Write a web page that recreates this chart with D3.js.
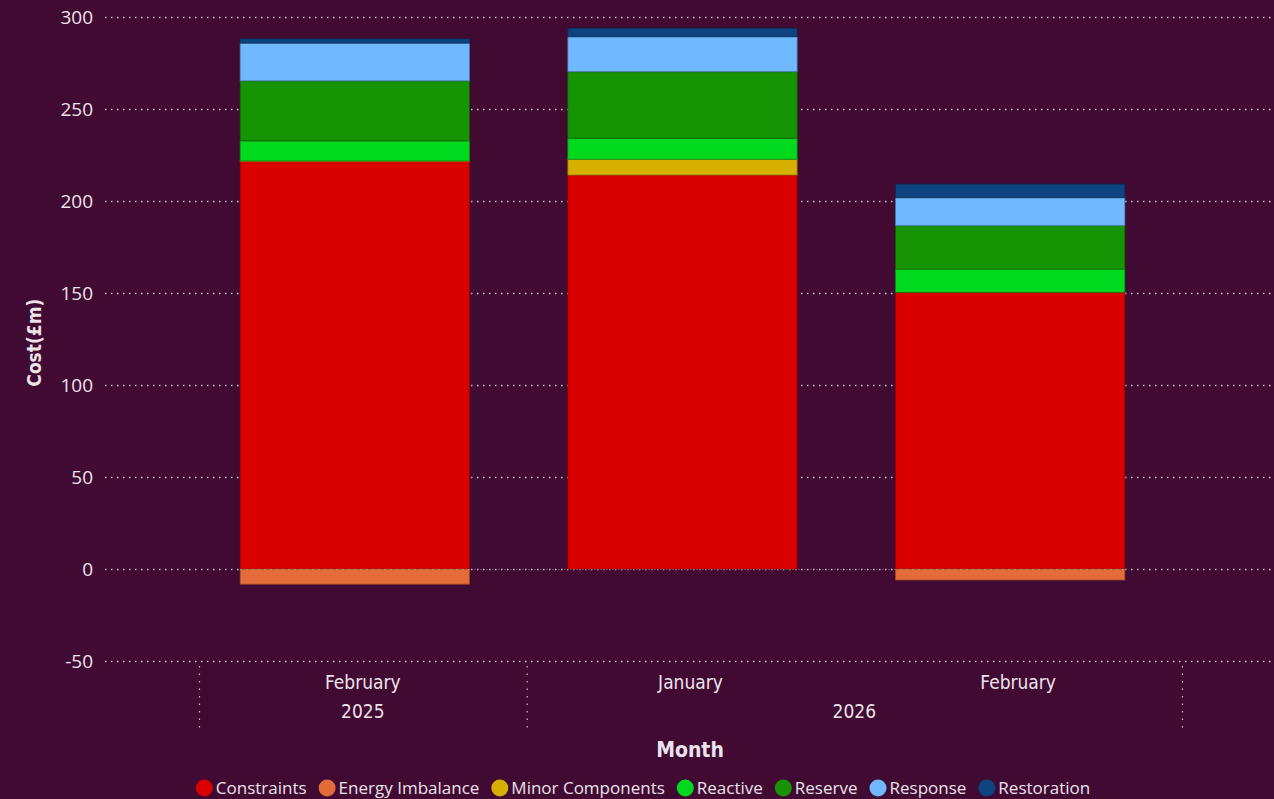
<!DOCTYPE html>
<html>
<head>
<meta charset="utf-8">
<script src="https://cdn.jsdelivr.net/npm/d3@7"></script>
<style>
  html, body { margin: 0; padding: 0; background: #400a32; }
  svg { display: block; }
</style>
</head>
<body>
<svg id="chart" width="1274" height="799"></svg>
<script>
// Monthly balancing cost breakdown (£m)
const months = ["February", "January", "February"];
const years = ["2025", "2026", "2026"];
const seriesNames = ["Constraints", "Energy Imbalance", "Minor Components", "Reactive", "Reserve", "Response", "Restoration"];
const seriesColors = ["#d90000", "#e36c3a", "#d6b000", "#00d91e", "#169404", "#70b8ff", "#0d4480"];

const constraints = [221.5, 214.1, 150.4];
const energyImbalance = [-8.3, 0, -6.0];
const minorComponents = [0.3, 8.6, 0];
const reactive = [10.9, 11.4, 12.6];
const reserve = [32.6, 36.2, 23.6];
const response = [20.5, 19.0, 15.2];
const restoration = [2.3, 4.6, 7.4];

const yTicks = [-50, 0, 50, 100, 150, 200, 250, 300];

const seriesValues = [constraints, energyImbalance, minorComponents, reactive, reserve, response, restoration];

const svg = d3.select("#chart");
const W = 1274, H = 799;
const textColor = "#ece3ea";

const plotLeft = 199, plotRight = 1182;
const gridLeft = 105;

const y = d3.scaleLinear().domain([-50, 300]).range([661, 17]);
const x = d3.scaleBand().domain(d3.range(months.length)).range([plotLeft, plotRight]).paddingInner(0).paddingOuter(0);
const barFrac = 0.7;
const barShift = -8;

// gridlines
svg.append("g").selectAll("line").data(yTicks).join("line")
  .attr("x1", gridLeft).attr("x2", W)
  .attr("y1", d => Math.round(y(d)) + 0.5).attr("y2", d => Math.round(y(d)) + 0.5)
  .attr("stroke", "#c9bcc6").attr("stroke-width", 1.3)
  .attr("stroke-dasharray", "1.5,4.5");

// y tick labels
const yAxis = d3.axisLeft(y).tickValues(yTicks).tickSize(0).tickPadding(0).tickFormat(d => String(d));
const gy = svg.append("g").attr("transform", `translate(93,0)`).call(yAxis);
gy.select(".domain").remove();
gy.selectAll("text")
  .attr("fill", textColor)
  .attr("dy", "0.34em")
  .attr("font-family", "'Open Sans', 'Noto Sans', sans-serif")
  .attr("font-size", 19);

// y axis title
svg.append("text")
  .attr("transform", `translate(41,${y(123)}) rotate(-90)`)
  .attr("text-anchor", "middle")
  .attr("fill", textColor)
  .attr("font-family", "'Liberation Sans Narrow', 'DejaVu Sans Condensed', sans-serif")
  .attr("font-weight", "bold")
  .attr("font-size", 19)
  .text("Cost(£m)");

// stacked bars: positives stack up from zero, negatives stack down
const segs = [];
months.forEach((m, i) => {
  let pos = 0, neg = 0;
  seriesValues.forEach((vals, s) => {
    const v = vals[i];
    if (!v) return;
    let y0, y1;
    if (v >= 0) { y0 = pos; y1 = pos + v; pos = y1; }
    else { y0 = neg; y1 = neg + v; neg = y1; }
    segs.push({ i, s, y0, y1 });
  });
});

const bw = x.bandwidth() * barFrac;
const barX = i => x(i) + (x.bandwidth() - bw) / 2 + barShift;
svg.append("g").selectAll("rect").data(segs).join("rect")
  .attr("x", d => barX(d.i))
  .attr("width", bw)
  .attr("y", d => y(Math.max(d.y0, d.y1)))
  .attr("height", d => Math.abs(y(d.y0) - y(d.y1)))
  .attr("fill", d => seriesColors[d.s])
  .attr("stroke", d => d3.color(seriesColors[d.s]).darker(1.2))
  .attr("stroke-opacity", 0.7)
  .attr("stroke-width", 1);

// zero gridline drawn over bars faintly
svg.append("line")
  .attr("x1", barX(0)).attr("x2", barX(2) + bw)
  .attr("y1", Math.round(y(0)) + 0.5).attr("y2", Math.round(y(0)) + 0.5)
  .attr("stroke", "#c9bcc6").attr("stroke-opacity", 0.5).attr("stroke-width", 1.2)
  .attr("stroke-dasharray", "1.5,4.5");

// category labels
const catFont = "'Liberation Sans Narrow', 'DejaVu Sans Condensed', sans-serif";
svg.append("g").selectAll("text").data(months).join("text")
  .attr("x", (d, i) => x(i) + x.bandwidth() / 2)
  .attr("y", 689)
  .attr("text-anchor", "middle")
  .attr("fill", textColor)
  .attr("font-family", catFont)
  .attr("font-size", 19)
  .text(d => d);

// year groups
const yearGroups = d3.groups(d3.range(months.length), i => years[i]);
svg.append("g").selectAll("text").data(yearGroups).join("text")
  .attr("x", d => (x(d[1][0]) + x(d[1][d[1].length - 1]) + x.bandwidth()) / 2)
  .attr("y", 718)
  .attr("text-anchor", "middle")
  .attr("fill", textColor)
  .attr("font-family", catFont)
  .attr("font-size", 19)
  .text(d => d[0]);

// year separators
const sepX = [x(0)].concat(yearGroups.map(g => x(g[1][g[1].length - 1]) + x.bandwidth()));
svg.append("g").selectAll("line").data(sepX).join("line")
  .attr("x1", d => d + 0.5).attr("x2", d => d + 0.5)
  .attr("y1", 666).attr("y2", 730)
  .attr("stroke", "#c9bcc6").attr("stroke-width", 1.2)
  .attr("stroke-dasharray", "1.5,6");

// x axis title
svg.append("text")
  .attr("x", 690).attr("y", 757)
  .attr("text-anchor", "middle")
  .attr("fill", textColor)
  .attr("font-family", catFont)
  .attr("font-weight", "bold")
  .attr("font-size", 21)
  .text("Month");

// legend
const legend = svg.append("g");
const items = legend.selectAll("g").data(seriesNames).join("g");
items.append("circle").attr("r", 8.5).attr("cy", 0).attr("cx", 8.5)
  .attr("fill", (d, i) => seriesColors[i]);
items.append("text").attr("x", 20).attr("y", 6)
  .attr("fill", textColor)
  .attr("font-family", "'Open Sans', 'Noto Sans', sans-serif")
  .attr("font-size", 17)
  .text(d => d);
const itemGap = 12;
let cx = 0;
const offsets = [];
items.each(function () {
  offsets.push(cx);
  const w = d3.select(this).select("text").node().getComputedTextLength();
  cx += 20 + w + itemGap;
});
const total = cx - itemGap;
const startX = 643 - total / 2;
items.attr("transform", (d, i) => `translate(${startX + offsets[i]},788)`);
</script>
</body>
</html>
